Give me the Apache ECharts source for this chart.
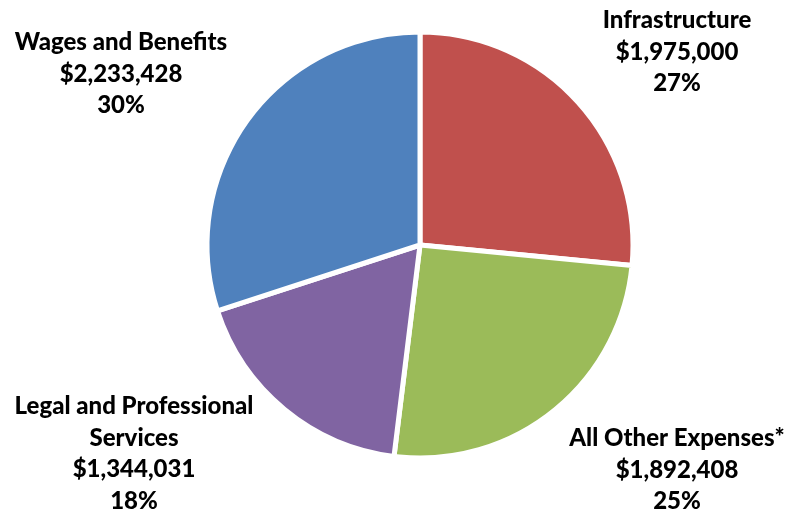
<!DOCTYPE html>
<html>
<head>
<meta charset="utf-8">
<script src="https://cdn.jsdelivr.net/npm/echarts@6/dist/echarts.min.js"></script>
<style>
  html, body { margin: 0; padding: 0; background: #fff; }
  #chart { width: 788px; height: 513px; }
</style>
</head>
<body>
<div id="chart"></div>
<script>
// Expense categories, in clockwise order from 12 o'clock
const categories = ['Infrastructure', 'All Other Expenses*', 'Legal and Professional\nServices', 'Wages and Benefits'];
const amounts = [1975000, 1892408, 1344031, 2233428];
const sliceColors = ['#C0504D', '#9BBB59', '#8064A2', '#4F81BD'];

// Where each label block sits (centre of the text block)
const labelSpots = [[677, 52], [677, 470], [134, 454], [121, 74]];

function money(v) {
  return '$' + v.toLocaleString('en-US');
}

const chart = echarts.init(document.getElementById('chart'));
chart.setOption({
  animation: false,
  series: [{
    type: 'pie',
    center: [420, 245],
    radius: 213,
    startAngle: 90,
    clockwise: true,
    data: categories.map((name, i) => ({
      name: name,
      value: amounts[i],
      itemStyle: { color: sliceColors[i] }
    })),
    itemStyle: { borderColor: '#ffffff', borderWidth: 5 },
    label: {
      show: true,
      formatter: p => p.name + '\n' + money(p.value) + '\n' + Math.round(p.percent) + '%',
      fontFamily: 'Lato',
      fontWeight: 900,
      fontSize: 24,
      lineHeight: 31.5,
      color: '#000',
      align: 'center',
      overflow: 'none',
      width: 300
    },
    labelLine: { show: false },
    labelLayout: p => ({
      x: labelSpots[p.dataIndex][0],
      y: labelSpots[p.dataIndex][1],
      align: 'center',
      verticalAlign: 'middle'
    }),
    emphasis: { disabled: true }
  }]
});
</script>
</body>
</html>
